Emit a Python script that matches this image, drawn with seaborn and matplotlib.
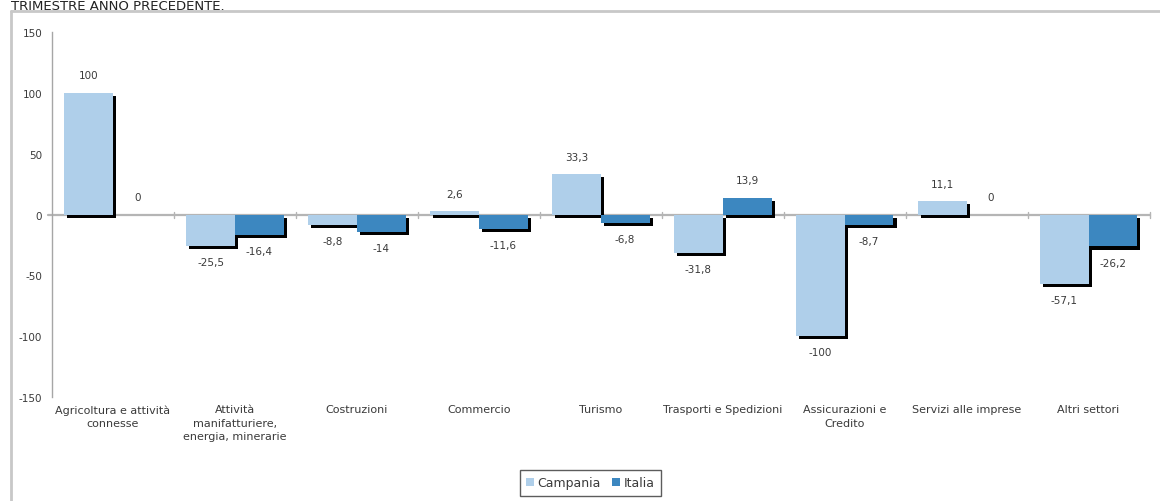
import matplotlib
matplotlib.use("Agg")
import matplotlib.pyplot as plt
import matplotlib.patheffects as pe
from matplotlib.lines import Line2D
from matplotlib.patches import Patch
import numpy as np
import pandas as pd
import seaborn as sns

# Sector categories and the two series (percentage change)
settori = [
    "Agricoltura e attività\nconnesse",
    "Attività\nmanifatturiere,\nenergia, minerarie",
    "Costruzioni",
    "Commercio",
    "Turismo",
    "Trasporti e Spedizioni",
    "Assicurazioni e\nCredito",
    "Servizi alle imprese",
    "Altri settori",
]
campania = [100, -25.5, -8.8, 2.6, 33.3, -31.8, -100, 11.1, -57.1]
italia = [0, -16.4, -14, -11.6, -6.8, 13.9, -8.7, 0, -26.2]
serie = ["Campania", "Italia"]
y_ticks = [-150, -100, -50, 0, 50, 100, 150]
titolo = "TRIMESTRE ANNO PRECEDENTE."

colori = {"Campania": "#AFCFEA", "Italia": "#3C87C0"}
testo = "#3a3a3a"

df = pd.DataFrame({
    "settore": settori * 2,
    "serie": [serie[0]] * len(settori) + [serie[1]] * len(settori),
    "valore": campania + italia,
})

sns.set_theme(style="white")
plt.rcParams["font.family"] = ["DejaVu Sans"]

fig = plt.figure(figsize=(11.6, 5.02), dpi=100)
ax = fig.add_axes([0.0448, 0.207, 0.9462, 0.727])

sns.barplot(data=df, x="settore", y="valore", hue="serie", order=settori,
            hue_order=serie, palette=colori, width=0.8, saturation=1,
            errorbar=None, legend=False, ax=ax, zorder=3)

shadow = [pe.SimplePatchShadow(offset=(2.2, -2.2), shadow_rgbFace="black", alpha=1.0),
          pe.Normal()]
for p in ax.patches:
    p.set_edgecolor("none")
    p.set_path_effects(shadow)

# Value labels: above positive bars, below negative bars
for container, vals in zip(ax.containers, [campania, italia]):
    for rect, v in zip(container, vals):
        cx = rect.get_x() + rect.get_width() / 2
        txt = f"{v:g}".replace(".", ",")
        if v >= 0:
            ax.annotate(txt, (cx, v), xytext=(0, 9), textcoords="offset points",
                        ha="center", va="bottom", fontsize=7.5, color=testo)
        else:
            ax.annotate(txt, (cx, v), xytext=(0, -8), textcoords="offset points",
                        ha="center", va="top", fontsize=7.5, color=testo)

n = len(settori)
ax.set_xlim(-0.5, n - 0.5)
ax.set_ylim(-150, 150)
ax.set_yticks(y_ticks)
ax.set_yticklabels([str(t) for t in y_ticks])
ax.tick_params(axis="y", length=0, pad=7, labelsize=7.5, labelcolor=testo)
ax.tick_params(axis="x", length=0, pad=5, labelsize=8, labelcolor=testo)
for lab in ax.get_xticklabels():
    lab.set_linespacing(1.45)
ax.set_xlabel("")
ax.set_ylabel("")

for s in ["top", "right", "bottom"]:
    ax.spines[s].set_visible(False)
ax.spines["left"].set_color("#a6a6a6")
ax.spines["left"].set_linewidth(1.0)

# Zero line with tick marks between categories
ax.axhline(0, xmin=-0.004, xmax=1.0, color="#b5b5b5", lw=1.6, zorder=1, clip_on=False)
for b in np.arange(0.5, n, 1.0):
    ax.plot([b, b], [-2.5, 2.5], color="#b5b5b5", lw=1.0, zorder=1, clip_on=False)

# Legend at the bottom
handles = [Patch(facecolor=colori[s], edgecolor="none", label=s) for s in serie]
leg = fig.legend(handles=handles, loc="center", bbox_to_anchor=(0.509, 0.036),
                 ncol=2, frameon=True, fontsize=9, handlelength=0.6,
                 handleheight=0.6, handletextpad=0.3, columnspacing=0.9,
                 borderpad=0.55, fancybox=False, labelcolor=testo)
leg.get_frame().set_edgecolor("#333333")
leg.get_frame().set_linewidth(1.0)

# Outer frame and heading
fig.add_artist(Line2D([11 / 1160, 11 / 1160], [0, 1 - 12 / 502],
                      transform=fig.transFigure, color="#c8c8c8", lw=2))
fig.add_artist(Line2D([11 / 1160, 1], [1 - 12 / 502, 1 - 12 / 502],
                      transform=fig.transFigure, color="#c8c8c8", lw=2))
fig.text(11 / 1160, 1 - 10 / 502, titolo, ha="left", va="baseline",
         fontsize=9.5, color="#222222")

fig.savefig("out.png", dpi=100)
